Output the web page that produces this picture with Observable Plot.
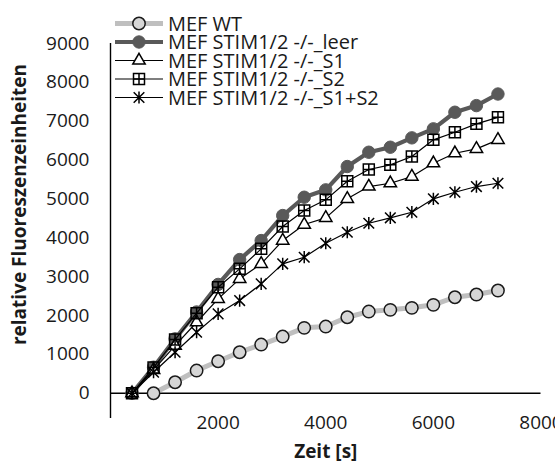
<!DOCTYPE html>
<html><head><meta charset="utf-8">
<script src="https://cdn.jsdelivr.net/npm/d3@7"></script>
<script src="https://cdn.jsdelivr.net/npm/@observablehq/plot@0.6"></script>
<style>
html,body{margin:0;padding:0;background:#fff;overflow:hidden;}
#chart{position:relative;width:555px;height:463px;}
</style></head><body><div id="chart"></div>
<script>
// ---- data ----
const times = [400, 800, 1200, 1600, 2000, 2400, 2800, 3200, 3600, 4000, 4400, 4800, 5200, 5600, 6000, 6400, 6800, 7200];
const seriesNames = ["MEF WT", "MEF STIM1/2 -/-_leer", "MEF STIM1/2 -/-_S1", "MEF STIM1/2 -/-_S2", "MEF STIM1/2 -/-_S1+S2"];
const wt   = [null, 0, 283, 584, 823, 1055, 1253, 1459, 1683, 1716, 1956, 2102, 2146, 2198, 2275, 2470, 2540, 2643];
const leer = [0, 670, 1400, 2090, 2800, 3440, 3929, 4573, 5044, 5234, 5834, 6202, 6331, 6572, 6804, 7231, 7402, 7700];
const s1   = [0, 600, 1227, 1827, 2429, 2944, 3330, 3929, 4341, 4514, 5003, 5319, 5404, 5576, 5919, 6176, 6289, 6521];
const s2   = [0, 660, 1380, 2060, 2728, 3201, 3716, 4290, 4701, 4977, 5455, 5757, 5877, 6091, 6521, 6716, 6932, 7100];
const s12  = [0, 540, 1055, 1570, 2043, 2385, 2815, 3330, 3500, 3860, 4143, 4375, 4514, 4658, 5003, 5172, 5319, 5404];
const yTicks = [0, 1000, 2000, 3000, 4000, 5000, 6000, 7000, 8000, 9000];
const xTicks = [2000, 4000, 6000, 8000];
const xLabel = "Zeit [s]";
const yLabel = "relative Fluoreszenzeinheiten";

// ---- custom symbols ----
const squarePlus = {draw(ctx, size) {
  const h = Math.sqrt(size) / 2;
  ctx.moveTo(-h, -h); ctx.lineTo(h, -h); ctx.lineTo(h, h); ctx.lineTo(-h, h); ctx.closePath();
  ctx.moveTo(-h, 0); ctx.lineTo(h, 0); ctx.moveTo(0, -h); ctx.lineTo(0, h);
}};
const starSym = {draw(ctx, size) {
  const h = Math.sqrt(size) / 2;
  ctx.moveTo(0, -h * 1.15); ctx.lineTo(0, h * 1.15);
  ctx.moveTo(-h, -h); ctx.lineTo(h, h);
  ctx.moveTo(-h, h); ctx.lineTo(h, -h);
}};

const values = [wt, leer, s1, s2, s12];
const styles = [
  {line: "#bfbfbf", lw: 5, symbol: d3.symbolCircle, r: 6.2, fill: "#d6d6d6", stroke: "#1a1a1a", sw: 1.5},
  {line: "#595959", lw: 4.2, symbol: d3.symbolCircle, r: 6.2, fill: "#595959", stroke: "#595959", sw: 1},
  {line: "#000000", lw: 1.2, symbol: d3.symbolTriangle, r: 4.6, fill: "#ffffff", stroke: "#000000", sw: 1.5},
  {line: "#000000", lw: 1.2, symbol: squarePlus, r: 6.2, fill: "none", stroke: "#000000", sw: 1.5},
  {line: "#000000", lw: 1.2, symbol: starSym, r: 6.0, fill: "none", stroke: "#000000", sw: 1.5}
];

const seriesData = seriesNames.map((name, i) =>
  times.map((t, j) => ({t, v: values[i][j], s: name})).filter(d => d.v != null));

const seriesMarks = seriesData.flatMap((data, i) => {
  const st = styles[i];
  return [
    Plot.line(data, {x: "t", y: "v", stroke: st.line, strokeWidth: st.lw}),
    Plot.dot(data, {x: "t", y: "v", symbol: () => st.symbol, r: st.r, fill: st.fill, stroke: st.stroke, strokeWidth: st.sw})
  ];
});

const plot = Plot.plot({
  width: 555, height: 463,
  marginLeft: 110, marginRight: 14.5, marginTop: 43, marginBottom: 45,
  style: {fontFamily: "'Open Sans', sans-serif", fontSize: "19px", color: "#1a1a1a", background: "#ffffff", overflow: "visible"},
  x: {domain: [0, 8000]},
  y: {domain: [-650, 9000]},
  symbol: {type: "identity"},
  marks: [
    Plot.axisY(yTicks, {tickSize: 0, tickPadding: 21, label: null, tickFormat: d3.format("d")}),
    Plot.axisX(xTicks, {tickSize: 0, tickPadding: 0, dy: -3, label: null, tickFormat: d3.format("d")}),
    Plot.ruleX([0], {y1: -650, y2: 9000, stroke: "#000", strokeWidth: 1.4}),
    Plot.ruleY([0], {x1: 0, x2: 8000, stroke: "#000", strokeWidth: 1.4}),
    ...seriesMarks,
    Plot.text([yLabel], {frameAnchor: "left", textAnchor: "middle", lineAnchor: "middle", rotate: -90, dx: -91, dy: -26.5, fontWeight: "bold", fontSize: 19}),
    Plot.text([xLabel], {frameAnchor: "bottom", textAnchor: "middle", lineAnchor: "middle", dy: 33.7, fontWeight: "bold", fontSize: 19})
  ]
});
document.getElementById("chart").appendChild(plot);

// ---- legend ----
const svg = d3.select(plot);
const lg = svg.append("g").attr("font-family", "'Open Sans', sans-serif").attr("font-size", 20)
  .attr("fill", "#1a1a1a").attr("text-anchor", "start");
seriesNames.forEach((name, i) => {
  const st = styles[i];
  const y = 23.5 + i * 18.5;
  const row = lg.append("g").attr("transform", `translate(0,${y})`);
  row.append("line").attr("x1", 115).attr("x2", 163).attr("y1", 0).attr("y2", 0)
    .attr("stroke", st.line).attr("stroke-width", st.lw);
  row.append("path").attr("transform", "translate(139,0)")
    .attr("d", d3.symbol(st.symbol, Math.PI * st.r * st.r)())
    .attr("fill", st.fill).attr("stroke", st.stroke).attr("stroke-width", st.sw);
  row.append("text").attr("x", 168).attr("dy", "0.35em").attr("text-anchor", "start").text(name);
});
</script></body></html>
